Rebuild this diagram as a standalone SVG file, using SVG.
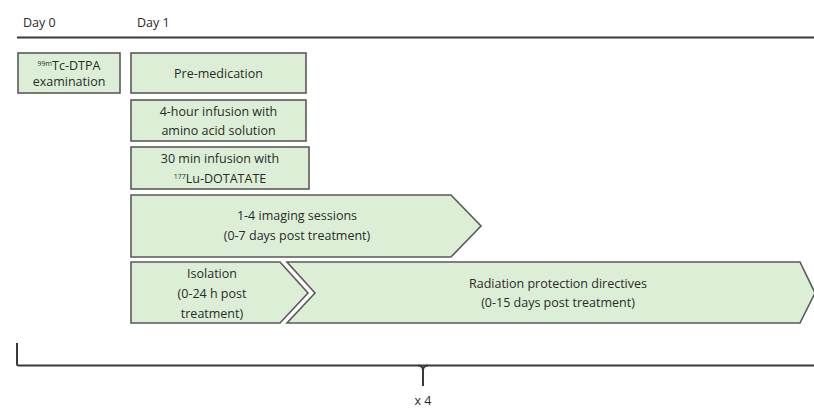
<svg xmlns="http://www.w3.org/2000/svg" width="814" height="409" viewBox="0 0 814 409">
<style>
.box{fill:#dcefd6;stroke:#5a5a5a;stroke-width:1.6}
.t{font-family:"Open Sans","Liberation Sans",sans-serif;font-size:12.5px;fill:#2a2a2a;text-anchor:middle}
.h{font-family:"Open Sans","Liberation Sans",sans-serif;font-size:12.5px;fill:#2a2a2a}
.ln{fill:none;stroke:#3a3a3a;stroke-width:2}
</style>
<rect width="814" height="409" fill="#ffffff"/>
<g id="header">
<text class="h" x="23" y="27">Day 0</text>
<text class="h" x="137" y="27">Day 1</text>
<line class="ln" x1="17" y1="37.5" x2="814" y2="37.5"/>
</g>
<g id="tc-dtpa">
<rect class="box" x="18" y="53" width="102" height="40"/>
<text class="t" x="69" y="70"><tspan font-size="7" dy="-4">99m</tspan><tspan dy="4">Tc-DTPA</tspan></text>
<text class="t" x="69" y="86">examination</text>
</g>
<g id="premed">
<rect class="box" x="131" y="53" width="175" height="40"/>
<text class="t" x="218.5" y="78">Pre-medication</text>
</g>
<g id="amino">
<rect class="box" x="131" y="100" width="175" height="41"/>
<text class="t" x="218.5" y="116">4-hour infusion with</text>
<text class="t" x="218.5" y="135">amino acid solution</text>
</g>
<g id="lu">
<rect class="box" x="131" y="147" width="178" height="42"/>
<text class="t" x="220" y="163">30 min infusion with</text>
<text class="t" x="220" y="183"><tspan font-size="7" dy="-4">177</tspan><tspan dy="4">Lu-DOTATATE</tspan></text>
</g>
<g id="imaging">
<polygon class="box" points="131,195 451,195 481,226 451,257 131,257"/>
<text class="t" x="297" y="220">1-4 imaging sessions</text>
<text class="t" x="297" y="240">(0-7 days post treatment)</text>
</g>
<g id="isolation">
<polygon class="box" points="131,262 280,262 308,293 280,323 131,323"/>
<text class="t" x="212" y="278">Isolation</text>
<text class="t" x="212" y="298">(0-24 h post</text>
<text class="t" x="212" y="318">treatment)</text>
</g>
<g id="radiation">
<polygon class="box" points="287,262 800,262 815,293 800,323 287,323 315,293"/>
<text class="t" x="558" y="288">Radiation protection directives</text>
<text class="t" x="558" y="307">(0-15 days post treatment)</text>
</g>
<g id="connectors">
<path class="ln" d="M17,343 L17,364 Q17,365.5 19,365.5 L814,365.5"/>
<path class="ln" d="M418,365.5 Q423,366 423,370 L423,386 M428,365.5 Q423,366 423,370"/>
</g>
<g id="repeat">
<text class="t" x="423" y="405">x 4</text>
</g>
</svg>
